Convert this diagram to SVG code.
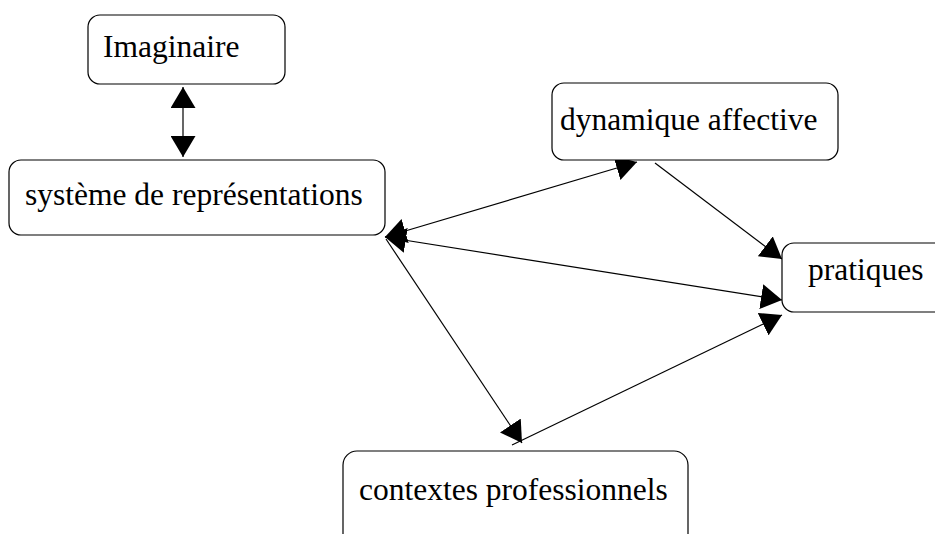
<svg xmlns="http://www.w3.org/2000/svg" width="935" height="534" viewBox="0 0 935 534">
<style>
.box{fill:#fff;stroke:#000;stroke-width:1.2}
.lbl{font-family:"Liberation Serif","Times New Roman",serif;font-size:31.5px;fill:#000}
.edge{stroke:#000;stroke-width:1.2;fill:none}
</style>
<defs>
<marker id="ah" viewBox="0 0 21 25" refX="21" refY="12.5" markerWidth="21" markerHeight="25" markerUnits="userSpaceOnUse" orient="auto-start-reverse">
<path d="M0,0 L21,12.5 L0,25 z" fill="#000"/>
</marker>
</defs>
<rect width="935" height="534" fill="#fff"/>
<g id="connectors">
<line class="edge" x1="183" y1="87" x2="183" y2="157" marker-start="url(#ah)" marker-end="url(#ah)"/>
<line class="edge" x1="385" y1="237" x2="637" y2="162" marker-start="url(#ah)" marker-end="url(#ah)"/>
<line class="edge" x1="385" y1="237" x2="782" y2="300" marker-start="url(#ah)" marker-end="url(#ah)"/>
<line class="edge" x1="386" y1="239" x2="522" y2="443" marker-end="url(#ah)"/>
<line class="edge" x1="512" y1="445" x2="782" y2="315" marker-end="url(#ah)"/>
<line class="edge" x1="655" y1="163" x2="782" y2="259" marker-end="url(#ah)"/>
</g>
<g id="imaginaire">
<rect class="box" x="88" y="15" width="197" height="69" rx="12"/>
<text class="lbl" x="103" y="57">Imaginaire</text>
</g>
<g id="systeme">
<rect class="box" x="9" y="160" width="376" height="75" rx="12"/>
<text class="lbl" x="25" y="205">système de représentations</text>
</g>
<g id="dynamique">
<rect class="box" x="552" y="83" width="286" height="77" rx="12"/>
<text class="lbl" x="560" y="130">dynamique affective</text>
</g>
<g id="pratiques">
<rect class="box" x="782" y="243" width="180" height="69" rx="12"/>
<text class="lbl" x="808" y="280">pratiques</text>
</g>
<g id="contextes">
<rect class="box" x="343" y="451" width="345" height="110" rx="14"/>
<text class="lbl" x="359" y="500">contextes professionnels</text>
</g>
</svg>
